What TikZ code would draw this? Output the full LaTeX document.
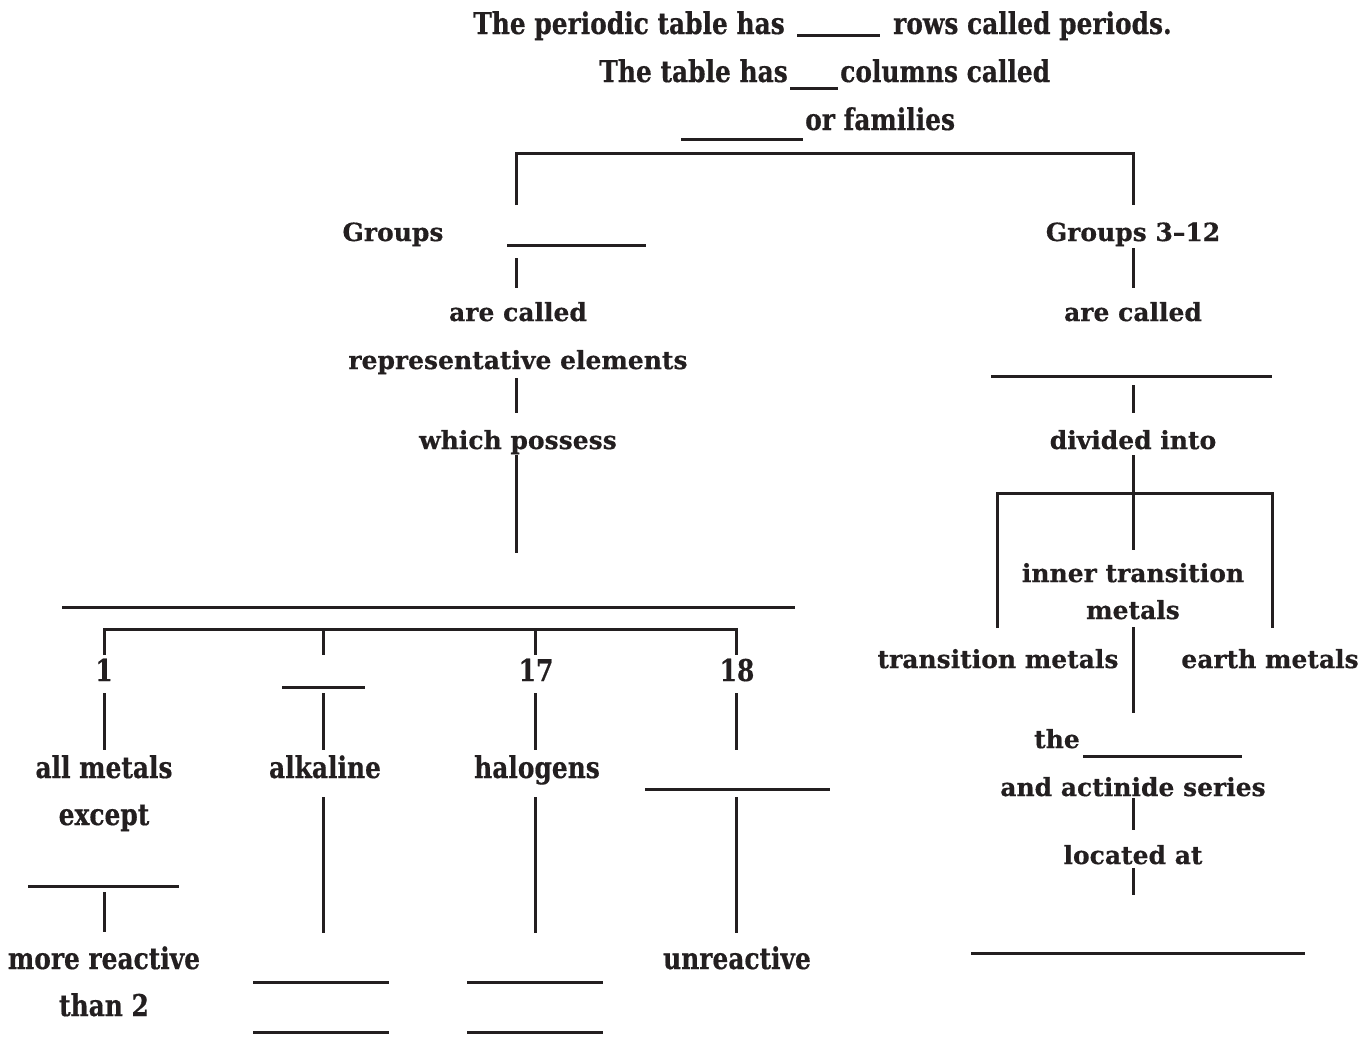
\documentclass[tikz,border=0pt]{standalone}
\usepackage{fontspec}
\newfontfamily\widef{DejaVu Serif}[BoldFeatures={FakeBold=0.5}]
\newfontfamily\condf{DejaVu Serif}[FakeStretch=0.83,BoldFeatures={FakeBold=0.5}]
\definecolor{ink}{HTML}{231F20}
\tikzset{
  w/.style={font=\widef\bfseries\fontsize{25}{29}\selectfont, text=ink, inner sep=0pt, anchor=base},
  c/.style={font=\condf\bfseries\fontsize{30}{34}\selectfont, text=ink, inner sep=0pt, anchor=base},
  ln/.style={draw=ink, line width=3pt},
}
\begin{document}
\begin{tikzpicture}[x=1pt,y=-1pt]
\useasboundingbox (0,0) rectangle (1364,1044);
% top text
\node[c, anchor=base east] (t1a) at (785,34) {The periodic table has};
\node[c, anchor=base west] (t1b) at (893,34) {rows called periods.};
\draw[ln] (797,35) -- (880,35);
\node[c, anchor=base east] (t2a) at (788,82) {The table has};
\node[c, anchor=base west] (t2b) at (840,82) {columns called};
\draw[ln] (790,88) -- (838,88);
\node[c, anchor=base west] (t3) at (805,130) {or families};
\draw[ln] (681,139) -- (803,139);
% main bracket
\draw[ln] (516,205) -- (516,153) -- (1133,153) -- (1133,205);
% left branch
\node[w] (grp) at (393,241) {Groups};
\draw[ln] (507,245) -- (646,245);
\draw[ln] (516,258) -- (516,288);
\node[w] (arec) at (518,321) {are called};
\node[w] (rep) at (518,369) {representative elements};
\draw[ln] (516,378) -- (516,413);
\node[w] (poss) at (518,449) {which possess};
\draw[ln] (516,455) -- (516,553);
\draw[ln] (62,607) -- (795,607);
\draw[ln] (104,655) -- (104,629) -- (736,629) -- (736,655);
\draw[ln] (323,629) -- (323,655);
\draw[ln] (535,629) -- (535,655);
\node[c] (g1) at (104,681) {1};
\draw[ln] (282,687) -- (365,687);
\node[c] (g17) at (536,681) {17};
\node[c] (g18) at (737,681) {18};
\draw[ln] (104,693) -- (104,750);
\draw[ln] (323,693) -- (323,750);
\draw[ln] (535,693) -- (535,750);
\draw[ln] (736,693) -- (736,750);
\node[c] (allm) at (104,778) {all metals};
\node[c] (alk) at (325,778) {alkaline};
\node[c] (hal) at (537,778) {halogens};
\draw[ln] (645,789) -- (830,789);
\node[c] (exc) at (104,825) {except};
\draw[ln] (323,797) -- (323,933);
\draw[ln] (535,797) -- (535,933);
\draw[ln] (736,797) -- (736,933);
\draw[ln] (28,886) -- (179,886);
\draw[ln] (104,892) -- (104,932);
\node[c] (more) at (104,969) {more reactive};
\node[c] (than) at (104,1016) {than 2};
\node[c] (unr) at (737,969) {unreactive};
\draw[ln] (253,982) -- (389,982);
\draw[ln] (253,1032) -- (389,1032);
\draw[ln] (467,982) -- (603,982);
\draw[ln] (467,1032) -- (603,1032);
% right branch
\node[w] (grp2) at (1133,241) {Groups 3–12};
\draw[ln] (1133,248) -- (1133,288);
\node[w] (arec2) at (1133,321) {are called};
\draw[ln] (991,376) -- (1272,376);
\draw[ln] (1133,385) -- (1133,413);
\node[w] (div) at (1133,449) {divided into};
\draw[ln] (1133,455) -- (1133,550);
\draw[ln] (997,628) -- (997,493) -- (1272,493) -- (1272,628);
\node[w] (itm1) at (1133,582) {inner transition};
\node[w] (itm2) at (1133,619) {metals};
\draw[ln] (1133,627) -- (1133,713);
\node[w] (tm) at (998,668) {transition metals};
\node[w] (em) at (1270,668) {earth metals};
\node[w, anchor=base east] (the) at (1080,748) {the};
\draw[ln] (1083,756) -- (1242,756);
\node[w] (act) at (1133,796) {and actinide series};
\draw[ln] (1133,798) -- (1133,830);
\node[w] (loc) at (1133,864) {located at};
\draw[ln] (1133,868) -- (1133,895);
\draw[ln] (971,953) -- (1305,953);
\end{tikzpicture}
\end{document}
